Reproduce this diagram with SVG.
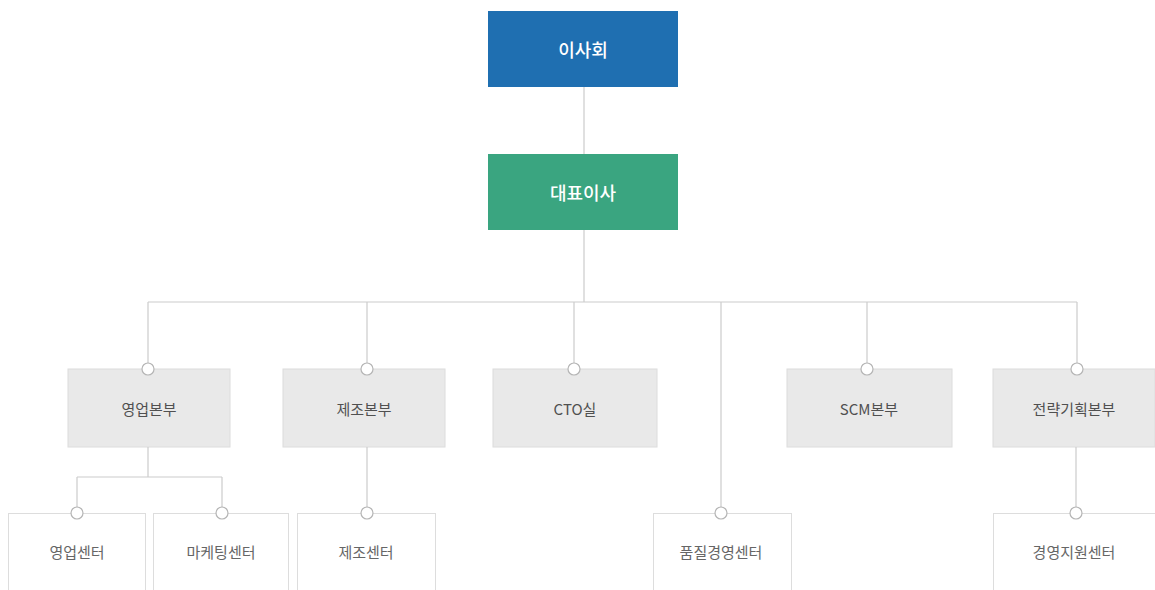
<svg xmlns="http://www.w3.org/2000/svg" width="1155" height="590" viewBox="0 0 1155 590">
<style>
text{font-family:"Noto Sans CJK KR","Noto Sans",sans-serif;text-anchor:middle;dominant-baseline:central}
.top{font-size:18px;fill:#ffffff;font-weight:500}
.l2{fill:#e9e9e9;stroke:#dcdcdc;stroke-width:1}
.l3{fill:#ffffff;stroke:#dddddd;stroke-width:1}
.t2{font-size:15px;fill:#505050}
.t3{font-size:15px;fill:#666666}
.ln{fill:none;stroke:#cccccc;stroke-width:1.2}
.dot{fill:#ffffff;stroke:#b5b5b5;stroke-width:1.2}
</style>
<rect width="1155" height="590" fill="#ffffff"/>
<g id="board"><rect x="488" y="11" width="190" height="76" fill="#1f6fb1"/><text class="top" x="583" y="49">이사회</text></g>
<g id="ceo"><rect x="488" y="154" width="190" height="76" fill="#3aa580"/><text class="top" x="583" y="192">대표이사</text></g>
<g id="sales-div"><rect class="l2" x="68" y="369" width="162" height="78"/><text class="t2" x="149" y="408">영업본부</text></g>
<g id="mfg-div"><rect class="l2" x="283" y="369" width="162" height="78"/><text class="t2" x="364" y="408">제조본부</text></g>
<g id="cto"><rect class="l2" x="493" y="369" width="164" height="78"/><text class="t2" x="575" y="408">CTO실</text></g>
<g id="scm-div"><rect class="l2" x="787" y="369" width="165" height="78"/><text class="t2" x="869" y="408">SCM본부</text></g>
<g id="strategy-div"><rect class="l2" x="993" y="369" width="162" height="78"/><text class="t2" x="1074" y="408">전략기획본부</text></g>
<g id="sales-center"><rect class="l3" x="8.5" y="513.5" width="137" height="80"/><text class="t3" x="77" y="551">영업센터</text></g>
<g id="marketing-center"><rect class="l3" x="153.5" y="513.5" width="135" height="80"/><text class="t3" x="221" y="551">마케팅센터</text></g>
<g id="mfg-center"><rect class="l3" x="297.5" y="513.5" width="138" height="80"/><text class="t3" x="366" y="551">제조센터</text></g>
<g id="quality-center"><rect class="l3" x="653.5" y="513.5" width="138" height="80"/><text class="t3" x="721" y="551">품질경영센터</text></g>
<g id="support-center"><rect class="l3" x="993.5" y="513.5" width="165" height="80"/><text class="t3" x="1074" y="551">경영지원센터</text></g>
<g id="connectors">
<path class="ln" d="M584 87V154M584 230V302M148 302H1077M148 302V369M367 302V369M574 302V369M721 302V513M867 302V369M1077 302V369"/>
<path class="ln" d="M148 447V477M77 477H222M77 477V513M222 477V513M367 447V513M1076 447V513"/>
<circle class="dot" cx="148" cy="369" r="6"/>
<circle class="dot" cx="367" cy="369" r="6"/>
<circle class="dot" cx="574" cy="369" r="6"/>
<circle class="dot" cx="867" cy="369" r="6"/>
<circle class="dot" cx="1077" cy="369" r="6"/>
<circle class="dot" cx="77" cy="513" r="6"/>
<circle class="dot" cx="222" cy="513" r="6"/>
<circle class="dot" cx="367" cy="513" r="6"/>
<circle class="dot" cx="721" cy="513" r="6"/>
<circle class="dot" cx="1076" cy="513" r="6"/>
</g>
</svg>
